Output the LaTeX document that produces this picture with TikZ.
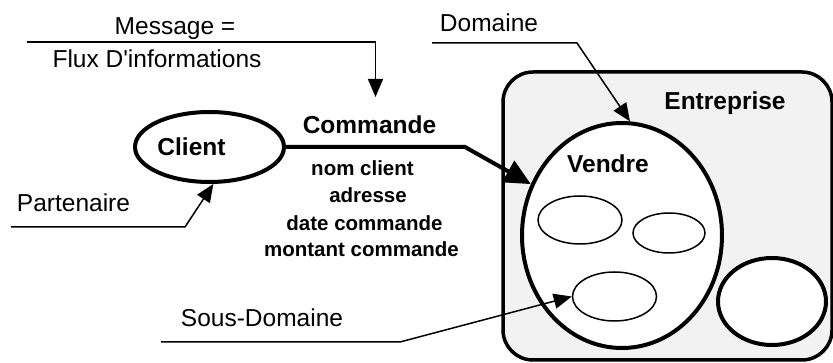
\documentclass[tikz,border=0pt]{standalone}
\usepackage{fontspec}
\setmainfont{Liberation Sans}[Ligatures=TeXOff]
\usetikzlibrary{arrows.meta,shapes.geometric}
\begin{document}
\begin{tikzpicture}[x=1pt,y=-1pt,
  big/.style={font=\fontsize{24.5}{29}\selectfont, inner sep=0pt},
  bigb/.style={font=\fontsize{24.5}{29}\selectfont\bfseries, inner sep=0pt},
  smallb/.style={font=\fontsize{20.5}{27}\selectfont\bfseries, inner sep=0pt, anchor=base},
  thinline/.style={line width=1.5pt},
  fatline/.style={line width=4pt},
  smalltip/.style={-{Triangle[length=18pt,width=15pt]}},
  bigtip/.style={-{Triangle[length=26pt,width=24pt]}},
  bigell/.style={ellipse, draw, line width=4pt, fill=white, inner sep=0pt},
  subell/.style={ellipse, draw, line width=1.5pt, fill=white, inner sep=0pt},
]
\useasboundingbox (0,0) rectangle (833,363);

% Entreprise box
\node[draw, line width=3.5pt, rounded corners=30pt, fill=black!5,
      minimum width=329pt, minimum height=288pt, inner sep=0pt]
      (entreprise) at (667.5,216) {};
\node[bigb, anchor=base] (entlabel) at (725,110) {Entreprise};

% Vendre and sub-domains
\node[bigell, minimum width=200pt, minimum height=225pt] (vendre) at (622,235.5) {};
\node[bigb, anchor=base] (vendlabel) at (608,173) {Vendre};
\node[subell, minimum width=84pt, minimum height=48pt] (sub1) at (580,220) {};
\node[subell, minimum width=72pt, minimum height=40pt] (sub2) at (669,233) {};
\node[subell, minimum width=84pt, minimum height=49pt] (sub3) at (614.5,296.5) {};
\node[bigell, minimum width=108pt, minimum height=87pt] (other) at (772,301.5) {};

% Client
\node[bigell, minimum width=149pt, minimum height=70pt] (client) at (209.5,147) {};
\node[bigb, anchor=base] (clientlabel) at (191.5,156) {Client};

% Commande flow
\coordinate (cmdbend) at (465,147);
\draw[fatline, bigtip] (client.east) -- (cmdbend) -- (vendre);
\node[bigb, anchor=base] (cmdlabel) at (369.5,133.3) {Commande};
\node[smallb] (f1) at (362.5,176) {nom client};
\node[smallb] (f2) at (368,203) {adresse};
\node[smallb] (f3) at (364.5,231) {date commande};
\node[smallb] (f4) at (361.5,257) {montant commande};

% Message annotation
\node[big, anchor=base] (msglabel) at (175,35) {Message =};
\node[big, anchor=base] (fluxlabel) at (157,68) {Flux D'informations};
\coordinate (msgstart) at (27,42);
\coordinate (msgbend) at (375.5,42);
\coordinate (msgtip) at (375.5,97);
\draw[thinline, smalltip] (msgstart) -- (msgbend) -- (msgtip);

% Partenaire annotation
\node[big, anchor=base] (partlabel) at (73.5,212) {Partenaire};
\coordinate (partstart) at (11,227);
\coordinate (partbend) at (185,227);
\draw[thinline, smalltip] (partstart) -- (partbend) -- (client.-84);

% Domaine annotation
\node[big, anchor=base] (domlabel) at (489,32) {Domaine};
\coordinate (domstart) at (432,43);
\coordinate (dombend) at (577,43);
\draw[thinline, smalltip] (domstart) -- (dombend) -- (vendre.86);

% Sous-Domaine annotation
\node[big, anchor=base] (sdlabel) at (262,327) {Sous-Domaine};
\coordinate (sdstart) at (161,342);
\coordinate (sdbend) at (400,342);
\draw[thinline, smalltip] (sdstart) -- (sdbend) -- (sub3.west);
\end{tikzpicture}
\end{document}
